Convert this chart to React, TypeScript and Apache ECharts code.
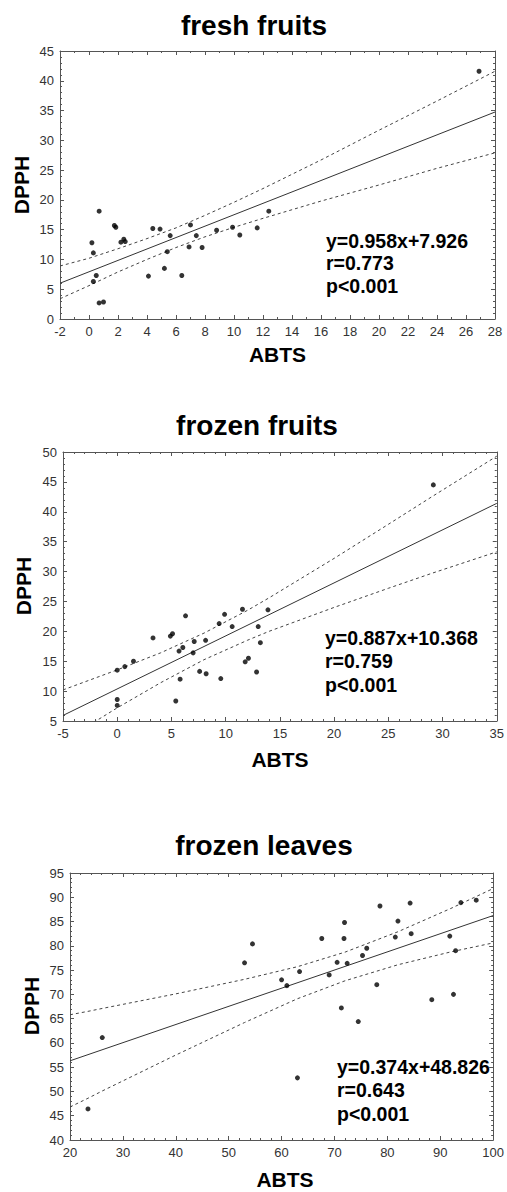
import React, { useEffect, useRef } from "react";
import * as echarts from "echarts";

// ---------- Panel 1: fresh fruits ----------
const freshABTS = [0.2, 0.3, 0.7, 0.5, 0.3, 0.7, 1.0, 1.75, 1.85, 2.2, 2.4, 2.5, 4.1, 4.4, 4.9, 5.2, 5.4, 5.6, 6.4, 6.9, 7.0, 7.4, 7.8, 8.8, 9.9, 10.4, 11.6, 12.4, 26.9];
const freshDPPH = [12.8, 11.1, 18.1, 7.3, 6.3, 2.7, 2.85, 15.7, 15.4, 12.9, 13.4, 13.0, 7.2, 15.2, 15.1, 8.5, 11.3, 14.0, 7.3, 12.1, 15.8, 14.0, 12.0, 14.9, 15.4, 14.1, 15.3, 18.1, 41.6];
const freshFitX = [-2, 28];
const freshFitY = [6.01, 34.75];
const freshBandX = [-2, 0, 2, 4, 6, 8, 10, 12, 16, 20, 24, 28];
const freshUpper = [8.9, 10.2, 11.8, 13.5, 15.3, 17.4, 19.6, 21.9, 26.7, 31.7, 36.6, 41.6];
const freshLower = [3.4, 5.6, 7.9, 10.0, 12.0, 13.8, 15.4, 16.9, 19.8, 22.5, 25.3, 27.9];

// ---------- Panel 2: frozen fruits ----------
const frozenFruitABTS = [0, 0.7, 1.5, 0, 0, 3.3, 4.9, 5.1, 5.7, 6.05, 6.3, 5.8, 5.4, 7.1, 7.0, 7.6, 8.15, 8.2, 9.4, 9.55, 9.9, 10.6, 11.55, 11.8, 12.1, 12.85, 13.0, 13.2, 13.9, 29.15];
const frozenFruitDPPH = [13.5, 14.1, 15.0, 8.6, 7.6, 18.9, 19.2, 19.6, 16.7, 17.3, 22.6, 12.0, 8.35, 18.3, 16.4, 13.3, 18.5, 12.9, 21.3, 12.1, 22.85, 20.8, 23.7, 14.9, 15.5, 13.2, 20.8, 18.1, 23.6, 44.5];
const frozenFruitFitX = [-5, 35];
const frozenFruitFitY = [5.93, 41.41];
const frozenFruitBandX = [-5, 0, 4, 8, 12, 14, 20, 25, 29, 35];
const frozenFruitUpper = [10.2, 13.55, 16.4, 19.7, 23.5, 25.6, 32.2, 37.9, 42.5, 49.3];
const frozenFruitLower = [1.6, 7.2, 11.4, 15.25, 18.5, 20.0, 24.0, 27.2, 29.7, 33.3];

// ---------- Panel 3: frozen leaves ----------
const frozenLeavesABTS = [53.0, 54.5, 60.0, 61.0, 63.4, 67.6, 69.0, 70.5, 71.8, 71.9, 72.4, 75.3, 76.1, 78.0, 78.6, 81.5, 82.0, 84.3, 84.5, 91.8, 92.9, 93.9, 96.8, 26.1, 23.4, 63.0, 71.3, 74.5, 88.4, 92.5];
const frozenLeavesDPPH = [76.5, 80.4, 73.0, 71.8, 74.7, 81.5, 74.0, 76.6, 81.5, 84.8, 76.4, 78.0, 79.5, 72.0, 88.2, 81.8, 85.1, 88.8, 82.5, 82.0, 79.0, 88.9, 89.4, 61.1, 46.4, 52.8, 67.2, 64.4, 68.9, 70.0];
const frozenLeavesFitX = [20, 100];
const frozenLeavesFitY = [56.31, 86.23];
const frozenLeavesBandX = [20, 23.4, 26.1, 40, 53, 63, 72, 82, 92, 100];
const frozenLeavesUpper = [65.8, 66.5, 67.1, 70.1, 73.1, 75.7, 78.7, 82.9, 87.7, 91.8];
const frozenLeavesLower = [46.8, 48.6, 50.1, 57.5, 64.2, 69.1, 72.8, 76.1, 78.75, 80.6];

// ---------- Texts ----------
const panelTitles = ["fresh fruits", "frozen fruits", "frozen leaves"];
const xName = "ABTS";
const yName = "DPPH";
const equations = ["y=0.958x+7.926", "y=0.887x+10.368", "y=0.374x+48.826"];
const rValues = ["r=0.773", "r=0.759", "r=0.643"];
const pValues = ["p<0.001", "p<0.001", "p<0.001"];

// axis ranges
const xRanges = [
  { min: -2, max: 28, interval: 2, minor: 2 },
  { min: -5, max: 35, interval: 5, minor: 5 },
  { min: 20, max: 100, interval: 10, minor: 5 },
];
const yRanges = [
  { min: 0, max: 45, interval: 5, minor: 5 },
  { min: 5, max: 50, interval: 5, minor: 5 },
  { min: 40, max: 95, interval: 5, minor: 5 },
];

const FONT = '"Liberation Sans", Arial, sans-serif';
const AX = "#555";

const zip = (xs: number[], ys: number[]) => xs.map((x, i) => [x, ys[i]]);

export default function App() {
  const ref = useRef<HTMLDivElement>(null);

  useEffect(() => {
    if (!ref.current) return;
    const chart = echarts.init(ref.current, undefined, { renderer: "svg" });

    const grids = [
      { left: 60, top: 51, width: 435, height: 268 },
      { left: 63, top: 452, width: 434, height: 269 },
      { left: 70, top: 873, width: 430, height: 267 },
    ];

    const panels = [
      { sx: freshABTS, sy: freshDPPH, fx: freshFitX, fy: freshFitY, bx: freshBandX, bu: freshUpper, bl: freshLower },
      { sx: frozenFruitABTS, sy: frozenFruitDPPH, fx: frozenFruitFitX, fy: frozenFruitFitY, bx: frozenFruitBandX, bu: frozenFruitUpper, bl: frozenFruitLower },
      { sx: frozenLeavesABTS, sy: frozenLeavesDPPH, fx: frozenLeavesFitX, fy: frozenLeavesFitY, bx: frozenLeavesBandX, bu: frozenLeavesUpper, bl: frozenLeavesLower },
    ];

    const xAxes: any[] = [];
    const yAxes: any[] = [];
    grids.forEach((_, i) => {
      const xr = xRanges[i];
      const yr = yRanges[i];
      const common = {
        type: "value",
        gridIndex: i,
        axisLine: { show: true, onZero: false, lineStyle: { color: AX, width: 1 } },
        axisTick: { show: true, inside: true, length: 4, lineStyle: { color: AX, width: 1 } },
        splitLine: { show: false },
      };
      xAxes.push({
        ...common,
        position: "bottom",
        min: xr.min,
        max: xr.max,
        interval: xr.interval,
        minorTick: { show: true, splitNumber: xr.minor, length: 2, lineStyle: { color: AX } },
        axisLabel: { color: "#333", fontSize: 13, margin: 6, fontFamily: FONT },
      });
      xAxes.push({
        ...common,
        position: "top",
        min: xr.min,
        max: xr.max,
        interval: xr.interval,
        minorTick: { show: true, splitNumber: xr.minor, length: 2, lineStyle: { color: AX } },
        axisLabel: { show: false },
      });
      yAxes.push({
        ...common,
        position: "left",
        min: yr.min,
        max: yr.max,
        interval: yr.interval,
        minorTick: { show: true, splitNumber: yr.minor, length: 2, lineStyle: { color: AX } },
        axisLabel: { color: "#333", fontSize: 13, margin: 6, fontFamily: FONT },
      });
      yAxes.push({
        ...common,
        position: "right",
        min: yr.min,
        max: yr.max,
        interval: yr.interval,
        minorTick: { show: true, splitNumber: yr.minor, length: 2, lineStyle: { color: AX } },
        axisLabel: { show: false },
      });
    });

    const series: any[] = [];
    panels.forEach((p, i) => {
      const ax = { xAxisIndex: 2 * i, yAxisIndex: 2 * i };
      series.push({
        type: "line",
        ...ax,
        data: zip(p.bx, p.bu),
        symbol: "none",
        lineStyle: { color: "#444", width: 1, type: [3, 3] },
        z: 2,
      });
      series.push({
        type: "line",
        ...ax,
        data: zip(p.bx, p.bl),
        symbol: "none",
        lineStyle: { color: "#444", width: 1, type: [3, 3] },
        z: 2,
      });
      series.push({
        type: "line",
        ...ax,
        data: zip(p.fx, p.fy),
        symbol: "none",
        lineStyle: { color: "#333", width: 1 },
        z: 3,
      });
      series.push({
        type: "scatter",
        ...ax,
        data: zip(p.sx, p.sy),
        symbol: "circle",
        symbolSize: 5,
        itemStyle: { color: "#000" },
        z: 4,
      });
    });

    const txt = (text: string, x: number, y: number, size: number, align: string, rotation = 0) => ({
      type: "text",
      x,
      y,
      rotation,
      z: 100,
      style: {
        text,
        fill: "#000",
        fontSize: size,
        fontWeight: "bold",
        fontFamily: FONT,
        align,
        verticalAlign: "middle",
        textAlign: align,
        textVerticalAlign: "middle",
      },
    });

    const titlePos = [
      [254, 25],
      [257, 425],
      [264, 845],
    ];
    const xNamePos = [
      [277.5, 354],
      [280, 759.5],
      [285, 1179],
    ];
    const yNamePos = [
      [21, 185],
      [23, 586],
      [31, 1006],
    ];
    const annPos = [
      [326, 240.7, 263.3, 286],
      [325, 638.3, 660.5, 684.5],
      [337, 1066.7, 1090, 1113.5],
    ];

    const graphics: any[] = [];
    for (let i = 0; i < 3; i++) {
      graphics.push(txt(panelTitles[i], titlePos[i][0], titlePos[i][1], 28, "center"));
      graphics.push(txt(xName, xNamePos[i][0], xNamePos[i][1], 21, "center"));
      graphics.push(txt(yName, yNamePos[i][0], yNamePos[i][1], 21, "center", Math.PI / 2));
      const a = annPos[i];
      graphics.push(txt(equations[i], a[0], a[1], 19.5, "left"));
      graphics.push(txt(rValues[i], a[0], a[2], 19.5, "left"));
      graphics.push(txt(pValues[i], a[0], a[3], 19.5, "left"));
    }

    chart.setOption({
      animation: false,
      backgroundColor: "#fff",
      grid: grids,
      xAxis: xAxes,
      yAxis: yAxes,
      series,
      graphic: graphics,
    });

    return () => {
      chart.dispose();
    };
  }, []);

  return (
    <div
      ref={ref}
      style={{ position: "absolute", left: 0, top: 0, width: 507, height: 1192, background: "#fff" }}
    />
  );
}
